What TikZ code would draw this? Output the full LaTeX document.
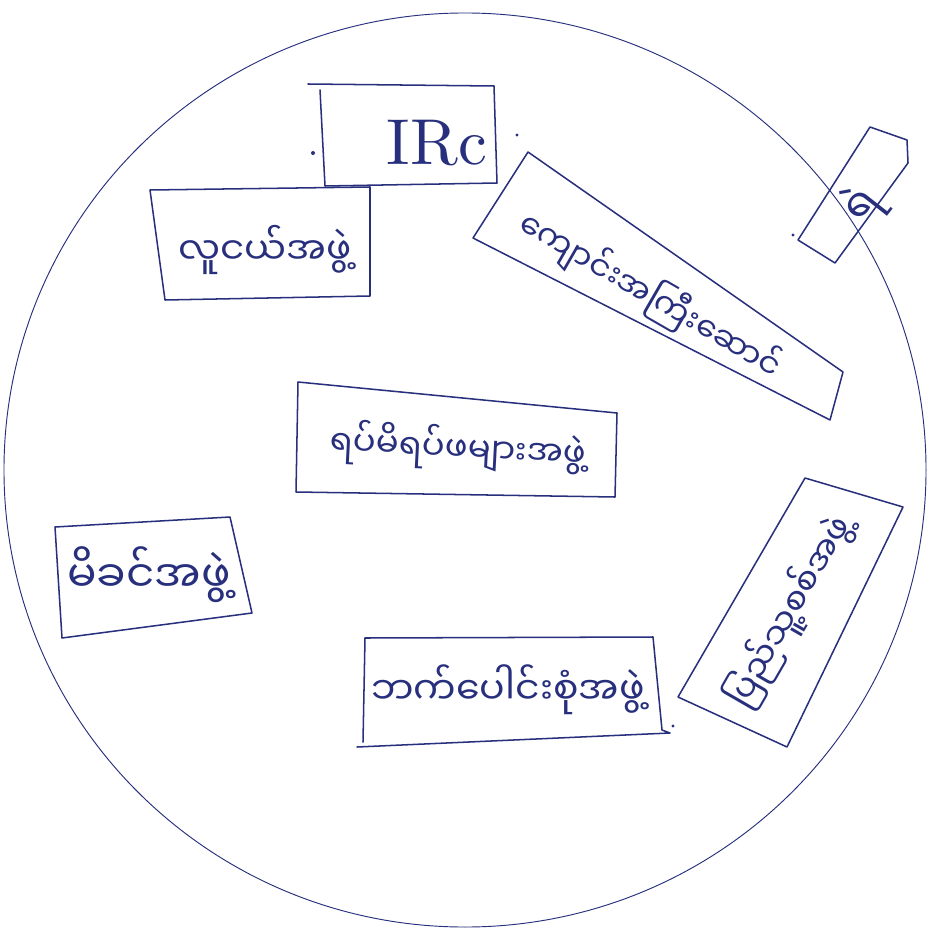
\documentclass[tikz,border=0pt]{standalone}
\usepackage{fontspec}
\newfontfamily\myan[Script=Myanmar]{Noto Sans Myanmar UI}
\definecolor{ink}{RGB}{40,48,125}
\tikzset{
  boxline/.style={draw=ink, line width=1.3pt, line join=round, line cap=round},
  ringline/.style={draw=ink, line width=0.8pt},
  lbl/.style={inner sep=0pt, text=ink},
  penDot/.style={fill=ink, draw=none}
}
\begin{document}
\begin{tikzpicture}[x=0.03cm, y=-0.03cm]
\useasboundingbox[fill=white] (0,0) rectangle (926,930);
% outer circle
\draw[ringline] (465,470) ellipse [x radius=13.83cm, y radius=13.71cm];

% IRC box
\draw[boxline] (308,84) -- (494,86) -- (497,183) -- (325,186) -- (320,90);
\node[lbl] (irc) at (437,143) {\resizebox{3.0cm}{!}{IRc}};

% youth group
\draw[boxline] (150,190) -- (370,187) -- (370,296) -- (165,300) -- cycle;
\node[lbl] (youth) at (265,250) {\resizebox{5.2cm}{!}{\myan လူငယ်အဖွဲ့}};

% school box (rotated, upper right)
\draw[boxline] (528,152) -- (843,372) -- (830,420) -- (473,238) -- cycle;
\node[lbl, rotate=-30] (school) at (650,296) {\resizebox{8.9cm}{!}{\myan ကျောင်းအကြီးဆောင်}};

% police box (small, far right)
\draw[boxline] (870,127) -- (907,140) -- (908,163) -- (835,263) -- (798,240) -- cycle;
\node[lbl, rotate=52] (police) at (862,206) {\resizebox{0.9cm}{!}{\myan ရဲ}};

% elders box (centre)
\draw[boxline] (298,382) -- (617,413) -- (615,497) -- (296,492) -- cycle;
\node[lbl, rotate=-3] (elders) at (458,448) {\resizebox{7.7cm}{!}{\myan ရပ်မိရပ်ဖများအဖွဲ့}};

% mothers box (left)
\draw[boxline] (55,527) -- (230,517) -- (252,613) -- (62,638) -- cycle;
\node[lbl] (mothers) at (149,575) {\resizebox{4.9cm}{!}{\myan မိခင်အဖွဲ့}};

% multi-party box (bottom)
\draw[boxline] (365,638) -- (653,637) -- (662,730) -- (670,733) -- (357,747);
\draw[boxline] (365,638) -- (363,742);
\node[lbl] (multi) at (508,690) {\resizebox{8.2cm}{!}{\myan ဘက်ပေါင်းစုံအဖွဲ့}};

% militia box (rotated, lower right)
\draw[boxline] (805,478) -- (903,507) -- (787,747) -- (678,697) -- cycle;
\node[lbl, rotate=60] (militia) at (790,612) {\resizebox{6.4cm}{!}{\myan ပြည်သူ့စစ်အဖွဲ့}};

% stray pen dots
\fill[penDot] (313,153) circle (0.06cm);
\fill[penDot] (517,135) circle (0.05cm);
\fill[penDot] (793,235) circle (0.05cm);
\fill[penDot] (673,726) circle (0.05cm);
\end{tikzpicture}
\end{document}
